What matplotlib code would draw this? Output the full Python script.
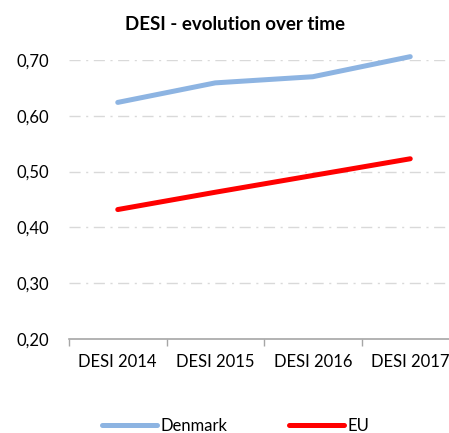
import numpy as np
from matplotlib import pyplot as plt
from matplotlib.ticker import FuncFormatter

plt.rcParams['font.family'] = ['Lato', 'DejaVu Sans']

years = ['DESI 2014', 'DESI 2015', 'DESI 2016', 'DESI 2017']
denmark = [0.624, 0.659, 0.670, 0.706]
eu = [0.432, 0.463, 0.493, 0.523]

fig = plt.figure(figsize=(4.49, 4.33), dpi=100)
ax = fig.add_axes([69/449, 94/433, 390/449, 279/433])

x = np.arange(len(years))
ax.plot(x, denmark, color='#8DB4E2', lw=3.6, solid_capstyle='round', label='Denmark', clip_on=False)
ax.plot(x, eu, color='#FF0000', lw=3.6, solid_capstyle='round', label='EU', clip_on=False)

ax.set_xlim(-0.5, 3.5)
ax.set_ylim(0.2, 0.7)
ax.set_yticks([0.2, 0.3, 0.4, 0.5, 0.6, 0.7])
ax.yaxis.set_major_formatter(FuncFormatter(lambda v, p: ('%.2f' % v).replace('.', ',')))
ax.set_xticks(x)
ax.set_xticklabels(years)
ax.set_xticks([-0.5, 0.5, 1.5, 2.5, 3.5], minor=True)

ax.tick_params(axis='x', which='major', length=0, pad=11, labelsize=12)
ax.tick_params(axis='x', which='minor', length=5, color='#A6A6A6', width=1)
ax.tick_params(axis='y', length=0, pad=14, labelsize=12)

for s in ['top', 'right', 'left']:
    ax.spines[s].set_visible(False)
ax.spines['bottom'].set_color('#A6A6A6')
ax.spines['bottom'].set_linewidth(1.2)

for v in [0.3, 0.4, 0.5, 0.6, 0.7]:
    ax.axhline(v, color='#D9D9D9', lw=1, ls=(0, (8, 4, 1.5, 4)), zorder=0)

fig.text(235/449, 1 - 25/433, 'DESI - evolution over time', ha='center', va='center',
         fontsize=13.5, fontweight='bold')

fig.legend(loc='center', bbox_to_anchor=(236/449, 1 - 426/433), ncol=2, frameon=False,
           fontsize=12, handlelength=3.3, columnspacing=3.7, handletextpad=0.2)

plt.savefig('out.png', dpi=100)
